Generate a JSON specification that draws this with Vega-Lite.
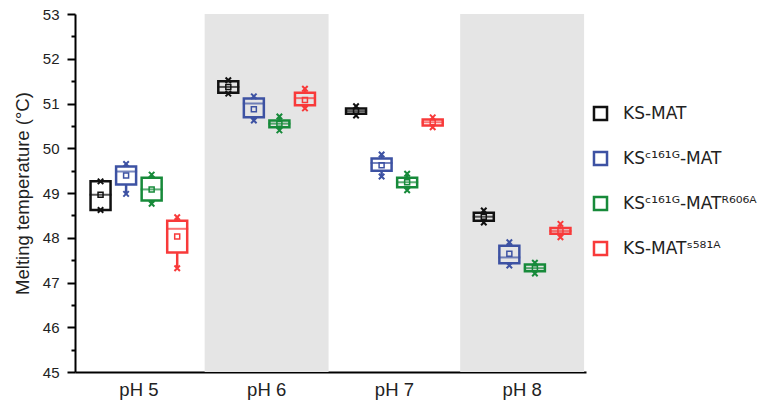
{
  "$schema": "https://vega.github.io/schema/vega-lite/v6.json",
  "width": 511,
  "height": 358,
  "autosize": {"type": "none"},
  "padding": {"left": 75, "top": 14, "right": 174, "bottom": 33},
  "background": "white",
  "config": {
    "view": {"stroke": null},
    "font": "Liberation Sans",
    "axis": {"labelFont": "Liberation Sans", "titleFont": "Liberation Sans", "labelColor": "#222", "titleColor": "#222", "grid": false}
  },
  "data": {"values": [
    {"ph": "pH 5", "group": "KS-MAT", "lo": 48.62, "q1": 48.62, "med": 48.96, "q3": 49.26, "hi": 49.26, "mean": 48.96},
    {"ph": "pH 5", "group": "KSᶜ¹⁶¹ᴳ-MAT", "lo": 48.98, "q1": 49.19, "med": 49.48, "q3": 49.59, "hi": 49.65, "mean": 49.39},
    {"ph": "pH 5", "group": "KSᶜ¹⁶¹ᴳ-MATᴿ⁶⁰⁶ᴬ", "lo": 48.76, "q1": 48.83, "med": 49.08, "q3": 49.34, "hi": 49.41, "mean": 49.08},
    {"ph": "pH 5", "group": "KS-MATˢ⁵⁸¹ᴬ", "lo": 47.32, "q1": 47.67, "med": 48.2, "q3": 48.38, "hi": 48.46, "mean": 48.03},
    {"ph": "pH 6", "group": "KS-MAT", "lo": 51.22, "q1": 51.24, "med": 51.37, "q3": 51.5, "hi": 51.52, "mean": 51.37},
    {"ph": "pH 6", "group": "KSᶜ¹⁶¹ᴳ-MAT", "lo": 50.62, "q1": 50.69, "med": 51.0, "q3": 51.11, "hi": 51.16, "mean": 50.87},
    {"ph": "pH 6", "group": "KSᶜ¹⁶¹ᴳ-MATᴿ⁶⁰⁶ᴬ", "lo": 50.4, "q1": 50.47, "med": 50.55, "q3": 50.62, "hi": 50.71, "mean": 50.55},
    {"ph": "pH 6", "group": "KS-MATˢ⁵⁸¹ᴬ", "lo": 50.89, "q1": 50.96, "med": 51.12, "q3": 51.24, "hi": 51.33, "mean": 51.08},
    {"ph": "pH 7", "group": "KS-MAT", "lo": 50.73, "q1": 50.77, "med": 50.83, "q3": 50.89, "hi": 50.94, "mean": 50.83},
    {"ph": "pH 7", "group": "KSᶜ¹⁶¹ᴳ-MAT", "lo": 49.37, "q1": 49.5, "med": 49.67, "q3": 49.77, "hi": 49.86, "mean": 49.62},
    {"ph": "pH 7", "group": "KSᶜ¹⁶¹ᴳ-MATᴿ⁶⁰⁶ᴬ", "lo": 49.06, "q1": 49.13, "med": 49.24, "q3": 49.34, "hi": 49.43, "mean": 49.24},
    {"ph": "pH 7", "group": "KS-MATˢ⁵⁸¹ᴬ", "lo": 50.47, "q1": 50.51, "med": 50.58, "q3": 50.64, "hi": 50.69, "mean": 50.58},
    {"ph": "pH 8", "group": "KS-MAT", "lo": 48.34, "q1": 48.38, "med": 48.47, "q3": 48.56, "hi": 48.61, "mean": 48.47},
    {"ph": "pH 8", "group": "KSᶜ¹⁶¹ᴳ-MAT", "lo": 47.38, "q1": 47.43, "med": 47.56, "q3": 47.82, "hi": 47.9, "mean": 47.64},
    {"ph": "pH 8", "group": "KSᶜ¹⁶¹ᴳ-MATᴿ⁶⁰⁶ᴬ", "lo": 47.2, "q1": 47.25, "med": 47.32, "q3": 47.4, "hi": 47.44, "mean": 47.32},
    {"ph": "pH 8", "group": "KS-MATˢ⁵⁸¹ᴬ", "lo": 48.01, "q1": 48.09, "med": 48.15, "q3": 48.22, "hi": 48.31, "mean": 48.15}
  ]},
  "encoding": {
    "x": {"field": "ph", "type": "nominal",
      "scale": {"domain": ["pH 5", "pH 6", "pH 7", "pH 8"], "paddingInner": 0, "paddingOuter": 0},
      "axis": {"title": null, "labelAngle": 0, "ticks": false, "labelPadding": 8, "labelFontSize": 18.5, "domainColor": "black", "domainWidth": 2}}
  },
  "resolve": {"axis": {"y": "independent"}},
  "layer": [
    {
      "data": {"values": [{"ph": "pH 6"}, {"ph": "pH 8"}]},
      "mark": {"type": "bar", "color": "#e5e5e5", "width": {"band": 0.97}},
      "encoding": {
        "y": {"datum": 53, "type": "quantitative", "scale": {"domain": [45, 53], "nice": false, "zero": false},
          "axis": {"title": "Melting temperature (°C)", "titleFontSize": 18.5, "titleFontWeight": "normal", "titlePadding": 10,
            "values": [45, 46, 47, 48, 49, 50, 51, 52, 53], "labelFontSize": 15, "tickSize": 8, "tickWidth": 2, "tickColor": "black",
            "domainColor": "black", "domainWidth": 2, "labelPadding": 8, "orient": "left"}},
        "y2": {"datum": 45}
      }
    },
    {
      "mark": {"type": "rule", "strokeWidth": 2.5},
      "encoding": {
        "xOffset": {"field": "group", "scale": {"domain": ["KS-MAT", "KSᶜ¹⁶¹ᴳ-MAT", "KSᶜ¹⁶¹ᴳ-MATᴿ⁶⁰⁶ᴬ", "KS-MATˢ⁵⁸¹ᴬ"], "paddingInner": 0, "paddingOuter": 0.5}},
        "y": {"field": "lo", "type": "quantitative",
          "axis": {"title": null, "labels": false, "domain": false, "values": [45.5, 46.5, 47.5, 48.5, 49.5, 50.5, 51.5, 52.5], "tickSize": 4, "tickWidth": 2, "tickColor": "black", "orient": "left"}},
        "y2": {"field": "q1"},
        "stroke": {"field": "group", "type": "nominal",
          "scale": {"domain": ["KS-MAT", "KSᶜ¹⁶¹ᴳ-MAT", "KSᶜ¹⁶¹ᴳ-MATᴿ⁶⁰⁶ᴬ", "KS-MATˢ⁵⁸¹ᴬ"], "range": ["#111111", "#3d52a3", "#178a3a", "#f83a3a"]},
          "legend": {"title": null, "orient": "none", "legendX": 517, "legendY": 91, "symbolType": "square", "symbolSize": 170,
            "symbolStrokeWidth": 2.5, "symbolFillColor": "transparent", "labelFont": "DejaVu Sans", "labelFontSize": 17, "labelColor": "#222", "labelOffset": 14, "labelLimit": 300, "rowPadding": 20, "padding": 0}}
      }
    },
    {
      "mark": {"type": "rule", "strokeWidth": 2.5},
      "encoding": {
        "xOffset": {"field": "group"},
        "y": {"field": "q3", "type": "quantitative", "axis": null},
        "y2": {"field": "hi"},
        "stroke": {"field": "group", "type": "nominal"}
      }
    },
    {
      "mark": {"type": "bar", "fill": "transparent", "strokeWidth": 2.5, "width": 20},
      "encoding": {
        "xOffset": {"field": "group"},
        "y": {"field": "q1", "type": "quantitative", "axis": null},
        "y2": {"field": "q3"},
        "stroke": {"field": "group", "type": "nominal"}
      }
    },
    {
      "mark": {"type": "tick", "filled": false, "thickness": 0.01, "strokeWidth": 2, "size": 20},
      "encoding": {
        "xOffset": {"field": "group"},
        "y": {"field": "med", "type": "quantitative", "axis": null},
        "stroke": {"field": "group", "type": "nominal"}
      }
    },
    {
      "mark": {"type": "point", "shape": "square", "filled": false, "strokeWidth": 1.5, "size": 25, "opacity": 1},
      "encoding": {
        "xOffset": {"field": "group"},
        "y": {"field": "mean", "type": "quantitative", "axis": null},
        "stroke": {"field": "group", "type": "nominal"}
      }
    },
    {
      "mark": {"type": "point", "shape": "M-1,-1L1,1M-1,1L1,-1", "filled": false, "strokeWidth": 2, "size": 30, "opacity": 1},
      "encoding": {
        "xOffset": {"field": "group"},
        "y": {"field": "lo", "type": "quantitative", "axis": null},
        "stroke": {"field": "group", "type": "nominal"}
      }
    },
    {
      "mark": {"type": "point", "shape": "M-1,-1L1,1M-1,1L1,-1", "filled": false, "strokeWidth": 2, "size": 30, "opacity": 1},
      "encoding": {
        "xOffset": {"field": "group"},
        "y": {"field": "hi", "type": "quantitative", "axis": null},
        "stroke": {"field": "group", "type": "nominal"}
      }
    }
  ]
}
